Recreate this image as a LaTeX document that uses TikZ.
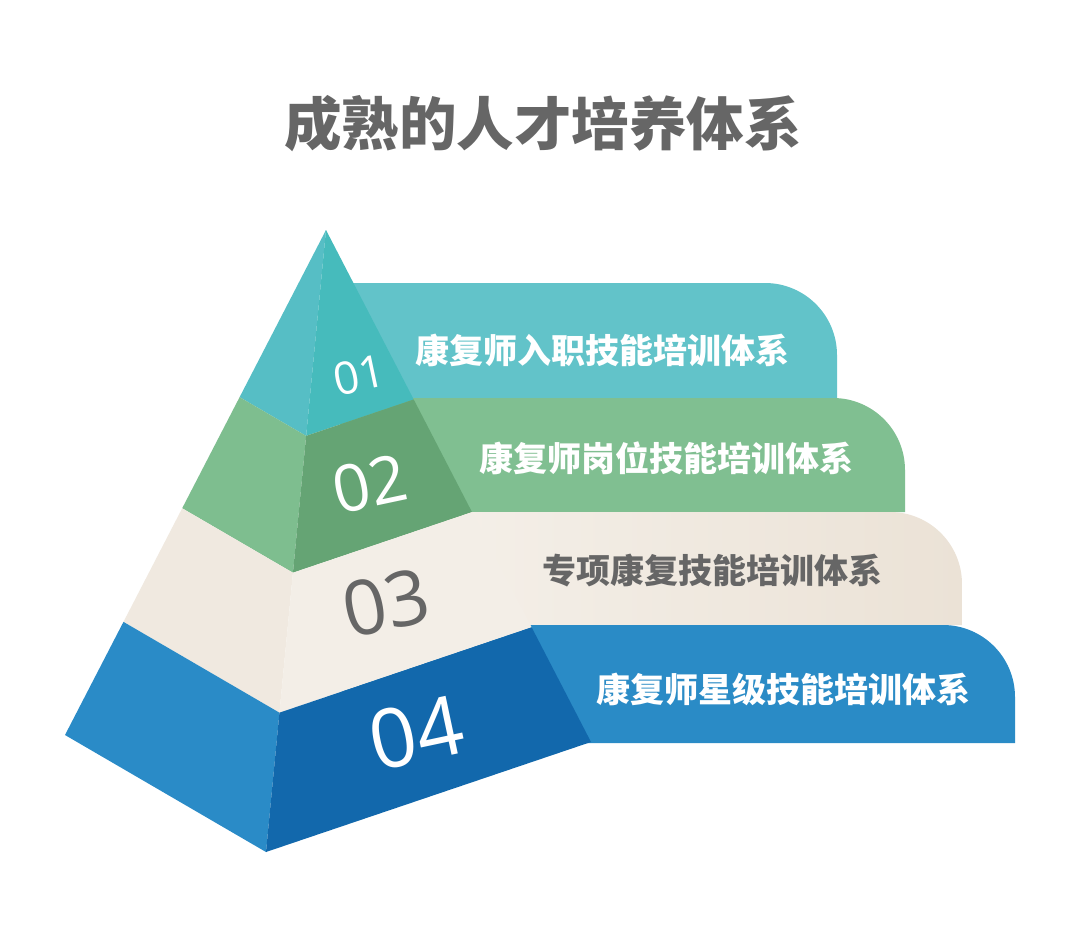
\documentclass[tikz,border=0pt]{standalone}
\usepackage{fontspec}
\setmainfont{Noto Sans CJK SC}
\newfontfamily\numfont{Open Sans}
\usepackage{tikz}
\usetikzlibrary{positioning,calc}

\definecolor{grigio}{HTML}{666666}
\definecolor{tealsx}{HTML}{56BEC5}
\definecolor{tealfr}{HTML}{46BBBC}
\definecolor{tealst}{HTML}{62C3C9}
\definecolor{verdesx}{HTML}{7EBE8F}
\definecolor{verdefr}{HTML}{65A474}
\definecolor{verdest}{HTML}{80BF91}
\definecolor{cremasx}{HTML}{F0E9E0}
\definecolor{cremafr}{HTML}{F3EEE7}
\definecolor{cremast}{HTML}{F6F2EC}
\definecolor{cremastdx}{HTML}{EBE2D6}
\definecolor{blusx}{HTML}{2A8BC7}
\definecolor{blufr}{HTML}{1268AC}
\definecolor{blust}{HTML}{2A8BC6}

\tikzset{
    voce/.style={font=\bfseries\fontsize{34}{34}\selectfont, text=white, inner sep=0pt},
    numero/.style={font=\numfont\fontsize{#1}{#1}\selectfont, text=white, rotate=12, inner sep=0pt},
    striscia1/.style={fill=tealst},
    striscia2/.style={fill=verdest},
    striscia3/.style={left color=cremast, right color=cremastdx},
    striscia4/.style={fill=blust},
}

\begin{document}
\begin{tikzpicture}[x=1pt, y=-1pt]
    \useasboundingbox[fill=white] (0,0) rectangle (1080,942);

    \node[font=\bfseries\fontsize{57.5}{57.5}\selectfont, text=grigio] (titolo) at (543,124) {成熟的人才培养体系};

    % strisce dietro la piramide
    \foreach \ya/\yb/\xr/\k in {283/398/837/1, 398/512/905/2, 512/625/962/3, 625/743/1015/4}
        \path[striscia\k] (340,\yb) -- (340,\ya) -- (\xr-72,\ya) arc[start angle=-90, end angle=0, radius=72] -- (\xr,\yb) -- cycle;

    \coordinate (apice) at (326,230);
    \coordinate (sx) at (65,735);
    \coordinate (fondo) at (266,852);
    \coordinate (dx) at (591,742);

    \foreach \ta/\tb/\csx/\cfr in {0/0.331/tealsx/tealfr, 0.331/0.551/verdesx/verdefr, 0.551/0.776/cremasx/cremafr, 0.776/1/blusx/blufr}
    {
        \fill[\csx] ($(apice)!\ta!(sx)$) -- ($(apice)!\tb!(sx)$) -- ($(apice)!\tb!(fondo)$) -- ($(apice)!\ta!(fondo)$) -- cycle;
        \fill[\cfr] ($(apice)!\ta!(fondo)$) -- ($(apice)!\tb!(fondo)$) -- ($(apice)!\tb!(dx)$) -- ($(apice)!\ta!(dx)$) -- cycle;
    }

    \node[numero=45] (n1) at (359,375) {01};
    \node[numero=65] (n2) at (370,484) {02};
    \node[numero=76, text=grigio] (n3) at (386,603) {03};
    \node[numero=82] (n4) at (416,733) {04};

    \node[voce] (v1) at (602,350) {康复师入职技能培训体系};
    \node[voce] (v2) at (666,458) {康复师岗位技能培训体系};
    \node[voce, text=grigio] (v3) at (712,571) {专项康复技能培训体系};
    \node[voce] (v4) at (783,689) {康复师星级技能培训体系};
\end{tikzpicture}
\end{document}
